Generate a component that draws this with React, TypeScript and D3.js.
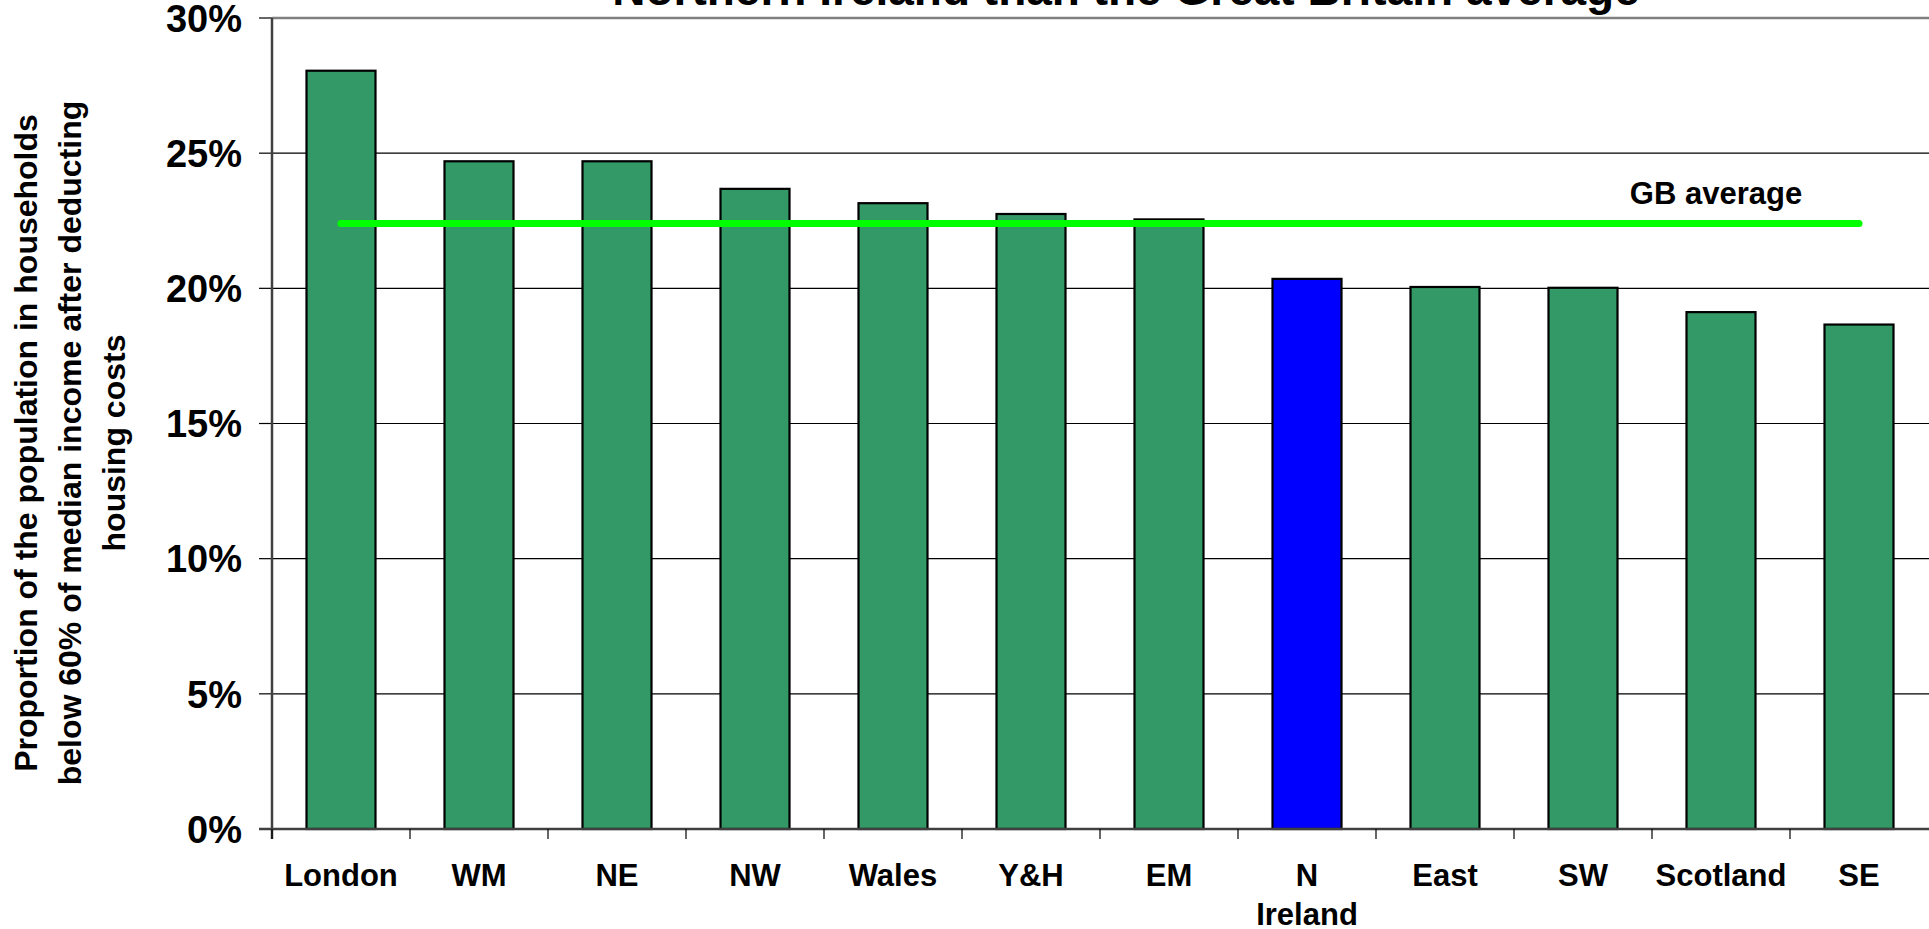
import React from "react";
import * as d3 from "d3";

const categories = ["London", "WM", "NE", "NW", "Wales", "Y&H", "EM", "N Ireland", "East", "SW", "Scotland", "SE"];
const values = [28.05, 24.7, 24.7, 23.68, 23.15, 22.75, 22.55, 20.35, 20.05, 20.02, 19.12, 18.66];
const highlight = ["N Ireland"];
const gbAverage = 22.4;
const yTicks = [0, 5, 10, 15, 20, 25, 30];
const titleText = "Northern Ireland than the Great Britain average";
const yTitleLines = [
  "Proportion of the population in households",
  "below 60% of median income after deducting",
  "housing costs",
];

const W = 1929;
const H = 929;
const M = { left: 272, right: 1, top: 18, bottom: 100 };

export default function App() {
  const x = d3
    .scaleBand<string>()
    .domain(categories)
    .range([M.left, W - M.right])
    .paddingInner(0.5)
    .paddingOuter(0.25);
  const xb = d3.scaleBand<string>().domain(categories).range([M.left, W - M.right]);
  const y = d3.scaleLinear().domain([0, 30]).range([H - M.bottom, M.top]);
  const font = "'Liberation Sans', Arial, sans-serif";
  const first = categories[0];
  const last = categories[categories.length - 1];
  const lineY = y(gbAverage);

  return (
    <svg width={W} height={H} style={{ position: "absolute", left: 0, top: 0, background: "#fff" }} fontFamily={font}>
      {/* gridlines */}
      {yTicks.map((t) => (
        <g key={t}>
          {t > 0 && t < 30 && (
            <line x1={M.left} x2={W} y1={y(t)} y2={y(t)} stroke="#000" strokeWidth={1.2} />
          )}
          <line x1={M.left - 13} x2={M.left} y1={y(t)} y2={y(t)} stroke="#000" strokeWidth={1.2} />
          <text x={M.left - 30} y={y(t)} dy="0.36em" textAnchor="end" fontSize={38} fontWeight="bold" fill="#000">
            {t}%
          </text>
        </g>
      ))}
      <line x1={M.left} x2={W} y1={y(30)} y2={y(30)} stroke="#808080" strokeWidth={2.5} />
      {/* bars */}
      {categories.map((c, i) => (
        <rect
          key={c}
          x={x(c)}
          y={y(values[i])}
          width={x.bandwidth()}
          height={y(0) - y(values[i])}
          fill={highlight.includes(c) ? "#0000FF" : "#339966"}
          stroke="#000"
          strokeWidth={2.2}
        />
      ))}
      {/* axes */}
      <line x1={M.left} x2={M.left} y1={y(30)} y2={y(0) + 10} stroke="#404040" strokeWidth={2.5} />
      <line x1={M.left - 13} x2={W} y1={y(0)} y2={y(0)} stroke="#404040" strokeWidth={2.5} />
      {categories.map((c) => (
        <line key={"t" + c} x1={xb(c)} x2={xb(c)} y1={y(0)} y2={y(0) + 10} stroke="#000" strokeWidth={1.2} />
      ))}
      {categories.map((c) => {
        const parts = c === "N Ireland" ? ["N", "Ireland"] : [c];
        const cx = (x(c) as number) + x.bandwidth() / 2;
        return (
          <text key={"l" + c} x={cx} y={y(0) + 57} textAnchor="middle" fontSize={31} fontWeight="bold">
            {parts.map((p, k) => (
              <tspan key={k} x={cx} dy={k === 0 ? 0 : 39}>
                {p}
              </tspan>
            ))}
          </text>
        );
      })}
      {/* GB average */}
      <line
        x1={(x(first) as number) + x.bandwidth() / 2}
        x2={(x(last) as number) + x.bandwidth() / 2}
        y1={lineY}
        y2={lineY}
        stroke="#00FF00"
        strokeWidth={7}
        strokeLinecap="round"
      />
      <text x={1716} y={204} textAnchor="middle" fontSize={31} fontWeight="bold">GB average</text>
      {/* title */}
      <text x={1126} y={5} textAnchor="middle" fontSize={46} fontWeight="bold">{titleText}</text>
      {/* y title */}
      <g transform={`translate(70, 443) rotate(-90)`}>
        {yTitleLines.map((l, i) => (
          <text key={i} x={0} y={(i - 1) * 44} dy="0.35em" textAnchor="middle" fontSize={32} fontWeight="bold">
            {l}
          </text>
        ))}
      </g>
    </svg>
  );
}
